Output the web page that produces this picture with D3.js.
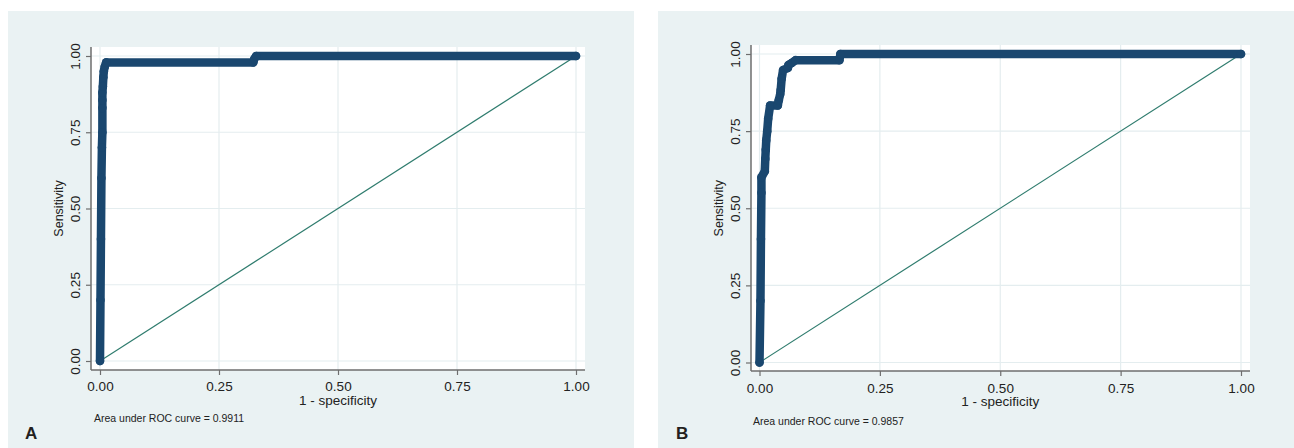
<!DOCTYPE html>
<html>
<head>
<meta charset="utf-8">
<script src="https://cdn.jsdelivr.net/npm/d3@7"></script>
<style>
  html, body { margin: 0; padding: 0; background: #fff; }
  svg { display: block; font-family: "Liberation Sans", Arial, sans-serif; }
</style>
</head>
<body>
<svg id="chart" width="1294" height="448"></svg>
<script>
// ─── Data ─────────────────────────────────────────────────────────────────
// ROC vertices: [1 - specificity, sensitivity]
const rocA = [
  [0, 0], [0.001, 0.2], [0.002, 0.4], [0.003, 0.6], [0.004, 0.7],
  [0.005, 0.75], [0.005, 0.83], [0.005, 0.856], [0.005, 0.88],
  [0.006, 0.9], [0.007, 0.93], [0.008, 0.95], [0.010, 0.965],
  [0.013, 0.979], [0.322, 0.979], [0.324, 0.99], [0.328, 1], [1, 1]
];
const rocB = [
  [0, 0], [0.002, 0.2], [0.003, 0.4], [0.004, 0.55], [0.004, 0.6],
  [0.011, 0.62], [0.012, 0.66], [0.013, 0.69], [0.014, 0.72],
  [0.016, 0.75], [0.018, 0.79], [0.022, 0.833], [0.038, 0.833],
  [0.040, 0.85], [0.043, 0.87], [0.044, 0.883], [0.046, 0.92],
  [0.049, 0.948], [0.059, 0.955], [0.060, 0.964], [0.066, 0.97],
  [0.075, 0.98], [0.166, 0.98], [0.168, 1], [1, 1]
];
const refLine    = [[0, 0], [1, 1]];
const tickValues = [0, 0.25, 0.5, 0.75, 1];
const aucLabels  = ["Area under ROC curve = 0.9911", "Area under ROC curve = 0.9857"];
const panelTags  = ["A", "B"];
const xTitle = "1 - specificity";
const yTitle = "Sensitivity";

// ─── Colours ───────────────────────────────────────────────────────────────
const bgCol    = "#eaf2f3";
const gridCol  = "#e4edef";
const axisCol  = "#6e6e6e";
const markCol  = "#1a476f";
const diagCol  = "#2f7c6e";

const svg = d3.select("#chart");

// panel frames (pixel layout)
const panels = [
  { data: rocA, bg: [8, 11, 634, 448], plot: [91, 47, 585, 370],
    x: [100, 576], y: [361, 56], yLab: 80, yTitleX: 63, xLabY: 391, xTitleY: 405,
    aucX: 94, aucY: 422, tagX: 25, tagY: 439 },
  { data: rocB, bg: [658, 11, 1294, 448], plot: [751, 45, 1250, 371],
    x: [759.5, 1241], y: [362.5, 54], yLab: 739.5, yTitleX: 723, xLabY: 393, xTitleY: 406,
    aucX: 753, aucY: 425, tagX: 676, tagY: 439 }
];

panels.forEach((p, i) => {
  const g = svg.append("g");
  const [bx0, by0, bx1, by1] = p.bg;
  const [px0, py0, px1, py1] = p.plot;

  g.append("rect")
    .attr("x", bx0).attr("y", by0)
    .attr("width", bx1 - bx0).attr("height", by1 - by0)
    .attr("fill", bgCol);

  g.append("rect")
    .attr("x", px0).attr("y", py0)
    .attr("width", px1 - px0).attr("height", py1 - py0)
    .attr("fill", "#fff");

  const x = d3.scaleLinear().domain([0, 1]).range(p.x);
  const y = d3.scaleLinear().domain([0, 1]).range(p.y);

  // grid
  g.append("g").selectAll("line.vg").data(tickValues).join("line")
    .attr("x1", d => x(d)).attr("x2", d => x(d))
    .attr("y1", py0).attr("y2", py1)
    .attr("stroke", gridCol).attr("stroke-width", 1.2);
  g.append("g").selectAll("line.hg").data(tickValues).join("line")
    .attr("x1", px0).attr("x2", px1)
    .attr("y1", d => y(d)).attr("y2", d => y(d))
    .attr("stroke", gridCol).attr("stroke-width", 1.2);

  // axes
  const yAx = g.append("g")
    .attr("transform", `translate(${px0},0)`)
    .call(d3.axisLeft(y).tickValues(tickValues).tickFormat(d3.format(".2f")).tickSize(5).tickSizeOuter(0));
  yAx.select(".domain").remove();
  yAx.selectAll(".tick line").attr("stroke", axisCol).attr("stroke-width", 1.2);
  yAx.selectAll(".tick text")
    .attr("x", 0).attr("dy", 0)
    .attr("y", -(px0 - p.yLab))
    .attr("transform", "rotate(-90)")
    .attr("text-anchor", "middle")
    .attr("font-size", 13.5).attr("fill", "#222")
    .attr("font-family", "Liberation Sans, Arial, sans-serif");

  const xAx = g.append("g")
    .attr("transform", `translate(0,${py1})`)
    .call(d3.axisBottom(x).tickValues(tickValues).tickFormat(d3.format(".2f")).tickSize(5).tickSizeOuter(0));
  xAx.select(".domain").remove();
  xAx.selectAll(".tick line").attr("stroke", axisCol).attr("stroke-width", 1.2);
  xAx.selectAll(".tick text")
    .attr("y", p.xLabY - py1).attr("dy", 0)
    .attr("font-size", 13.5).attr("fill", "#222")
    .attr("font-family", "Liberation Sans, Arial, sans-serif");

  g.append("line")
    .attr("x1", px0).attr("x2", px0).attr("y1", py0).attr("y2", py1)
    .attr("stroke", axisCol).attr("stroke-width", 1.5);
  g.append("line")
    .attr("x1", px0).attr("x2", px1).attr("y1", py1).attr("y2", py1)
    .attr("stroke", axisCol).attr("stroke-width", 1.5);

  // titles
  g.append("text")
    .attr("transform", `translate(${p.yTitleX},${(p.y[0] + p.y[1]) / 2}) rotate(-90)`)
    .attr("text-anchor", "middle")
    .attr("font-size", 12.5).attr("fill", "#222")
    .text(yTitle);
  g.append("text")
    .attr("x", (p.x[0] + p.x[1]) / 2).attr("y", p.xTitleY)
    .attr("text-anchor", "middle")
    .attr("font-size", 13.5).attr("fill", "#222")
    .text(xTitle);
  g.append("text")
    .attr("x", p.aucX).attr("y", p.aucY)
    .attr("font-size", 10.5).attr("fill", "#222")
    .text(aucLabels[i]);
  g.append("text")
    .attr("x", p.tagX).attr("y", p.tagY)
    .attr("font-size", 17).attr("font-weight", "bold").attr("fill", "#231f20")
    .text(panelTags[i]);

  // reference diagonal
  const line = d3.line().x(d => x(d[0])).y(d => y(d[1]));
  g.append("path").datum(refLine)
    .attr("d", line)
    .attr("fill", "none").attr("stroke", diagCol).attr("stroke-width", 1.2);

  // ROC curve: dense marker run drawn as a marker-wide band, plus markers
  g.append("path").datum(p.data)
    .attr("d", line)
    .attr("fill", "none").attr("stroke", markCol)
    .attr("stroke-width", 8.5)
    .attr("stroke-linecap", "round").attr("stroke-linejoin", "round");
  g.append("g").selectAll("circle").data(p.data).join("circle")
    .attr("cx", d => x(d[0])).attr("cy", d => y(d[1]))
    .attr("r", 4.3).attr("fill", markCol);
});
</script>
</body>
</html>
